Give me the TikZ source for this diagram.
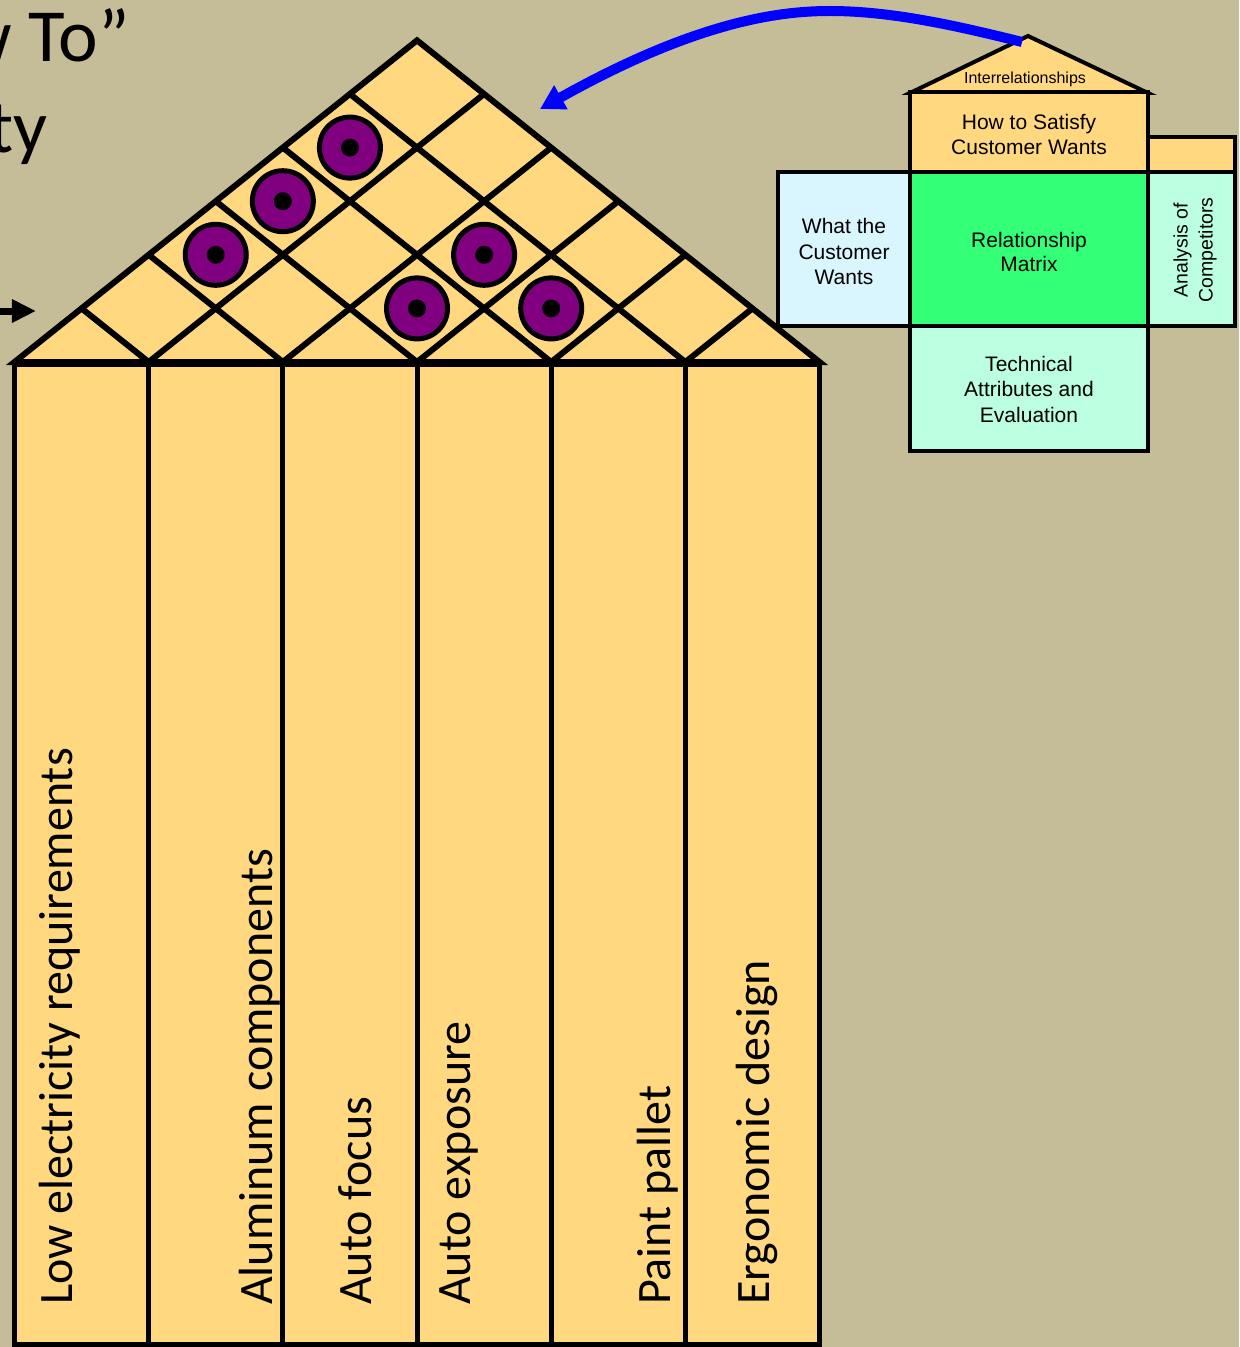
\documentclass[tikz,border=0pt]{standalone}
\usepackage{fontspec}
\setmainfont{Carlito}
\newfontfamily\arialfont{Liberation Sans}
\usetikzlibrary{arrows.meta}

\definecolor{bgbeige}{HTML}{C5BD98}
\definecolor{roofyellow}{HTML}{FFD880}
\definecolor{relpurple}{HTML}{800080}
\definecolor{wantblue}{HTML}{D9F6FF}
\definecolor{mint}{HTML}{BBFFE0}
\definecolor{matrixgreen}{HTML}{33FF77}
\definecolor{arrowblue}{HTML}{0000FF}

\begin{document}
\begin{tikzpicture}[x=1bp,y=-1bp,
  colbox/.style={draw=black, line width=5bp, fill=roofyellow},
  roofline/.style={draw=black, line width=6bp, line join=miter},
  collabel/.style={rotate=90, anchor=base west, inner sep=0pt, text=black,
    font=\fontsize{48bp}{58bp}\selectfont},
  relmark/.style={circle, draw=black, line width=5bp, fill=relpurple,
    minimum size=61bp, inner sep=0pt},
  reldot/.style={circle, fill=black, minimum size=18bp, inner sep=0pt},
  hqbox/.style={draw=black, line width=4bp, inner sep=0pt, outer sep=0pt,
    anchor=north west},
  hqtext/.style={inner sep=0pt, align=center, text=black, yshift=-2.5bp,
    font=\arialfont\fontsize{21bp}{25.5bp}\selectfont},
  titletext/.style={anchor=base east, inner sep=0pt, text=black,
    font=\fontsize{75bp}{90bp}\selectfont}
]
\useasboundingbox (0,0) rectangle (1239,1347);
\clip (0,0) rectangle (1239,1347);
\fill[bgbeige] (0,0) rectangle (1239,1347);

% title fragments at the left edge
\node[titletext] (title1) at (130,62) {How To”};
\node[titletext] (title2) at (48,153) {Quality};
\coordinate (pointerStart) at (-10,311);
\coordinate (pointerEnd) at (36,311);
\draw[line width=7bp, -{Triangle[length=24bp,width=22bp]}] (pointerStart) -- (pointerEnd);

% ---- main house: columns ----
\def\xL{14.5}
\def\wc{134.17}
\def\base{362}
\def\hc{53.6}
\foreach \i in {0,...,5}{
  \draw[colbox] ({\xL+\i*\wc},364) rectangle ({\xL+(\i+1)*\wc},1344);
}

% ---- main house: roof with correlation grid ----
\fill[roofyellow] (\xL,\base) -- (417,{\base-6*\hc}) -- ({\xL+6*\wc},\base) -- cycle;
\foreach \k in {1,...,5}{
  % rising to the right
  \draw[roofline] ({\xL+\k*\wc},\base) -- ({\xL+(\k+6)*\wc/2},{\base-(6-\k)*\hc});
  % rising to the left
  \draw[roofline] ({\xL+\k*\wc},\base) -- ({\xL+\k*\wc/2},{\base-\k*\hc});
}
\draw[roofline] (\xL,\base) -- (417,{\base-6*\hc}) -- ({\xL+6*\wc},\base) -- cycle;

% strong relationships in the roof
\foreach \k/\j [count=\n] in {0/4,0/3,0/2,2/4,2/3,3/4}{
  \node[relmark] (rel\n) at ({\xL+(\k+\j+1)*\wc/2},{\base-(\j-\k)*\hc}) {};
  \node[reldot] (reldot\n) at (rel\n.center) {};
}

% column labels
\node[collabel] (lab1) at (72,1305) {Low electricity requirements};
\node[collabel] (lab2) at (272,1305) {Aluminum components};
\node[collabel] (lab3) at (371,1305) {Auto focus};
\node[collabel] (lab4) at (470,1305) {Auto exposure};
\node[collabel] (lab5) at (670,1305) {Paint pallet};
\node[collabel] (lab6) at (769,1305) {Ergonomic design};

% ---- small house of quality ----
\draw[line width=4bp, fill=roofyellow, line join=miter] (910,93) -- (1028,36) -- (1148,93) -- cycle;
\node[inner sep=0pt, font=\arialfont\fontsize{16bp}{19bp}\selectfont] (interrel) at (1025,79) {Interrelationships};
\node[hqbox, fill=roofyellow, minimum width=238bp, minimum height=80bp] (hows) at (910,92) {};
\node[hqbox, fill=roofyellow, minimum width=87bp, minimum height=35bp] (compstrip) at (1148,137) {};
\node[hqbox, fill=wantblue, minimum width=132bp, minimum height=154bp] (whats) at (778,172) {};
\node[hqbox, fill=matrixgreen, minimum width=238bp, minimum height=154bp] (matrix) at (910,172) {};
\node[hqbox, fill=mint, minimum width=87bp, minimum height=154bp] (comps) at (1148,172) {};
\node[hqbox, fill=mint, minimum width=238bp, minimum height=125bp] (techs) at (910,326) {};

\node[hqtext] (howstext) at (hows.center) {How to Satisfy\\Customer Wants};
\node[hqtext] (whatstext) at (whats.center) {What the\\Customer\\Wants};
\node[hqtext, font=\arialfont\fontsize{21bp}{24bp}\selectfont] (matrixtext) at (matrix.center) {Relationship\\Matrix};
\node[hqtext, yshift=2bp] (techstext) at (techs.center) {Technical\\Attributes and\\Evaluation};
\node[rotate=90, align=center, inner sep=0pt, font=\arialfont\fontsize{19.5bp}{25bp}\selectfont] (compstext) at (1195,250) {Analysis of\\Competitors};

% pointer from the roof of the small house to the large roof
\coordinate (linkStart) at (1022,42);
\coordinate (linkTop) at (830,11);
\coordinate (linkEnd) at (540,109);
\draw[arrowblue, line width=10bp, -{Triangle[length=24bp,width=26bp]}]
  (linkStart) .. controls (954,25) and (890,11) .. (linkTop)
  .. controls (780,11) and (697,21) .. (linkEnd);
\end{tikzpicture}
\end{document}
